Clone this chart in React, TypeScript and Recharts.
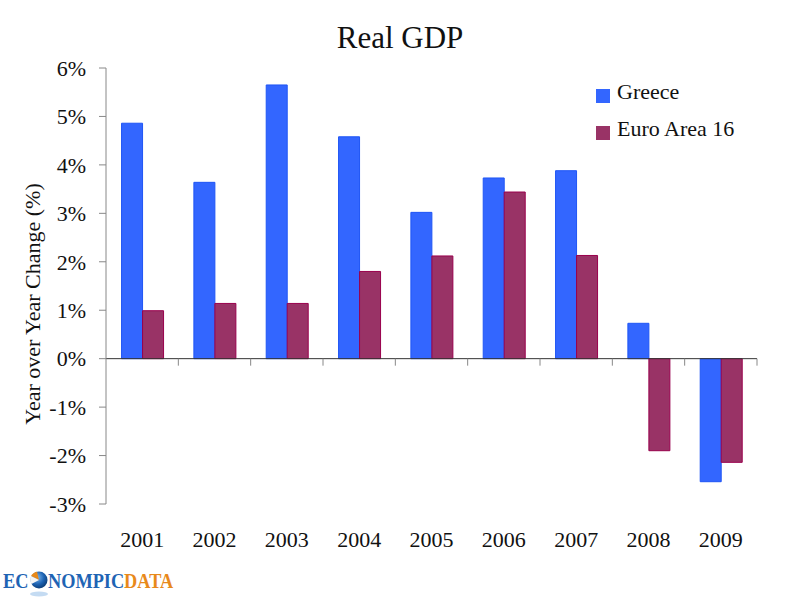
import React from 'react';
import { BarChart, Bar, XAxis, YAxis, ReferenceLine, Legend } from 'recharts';

const years = ['2001', '2002', '2003', '2004', '2005', '2006', '2007', '2008', '2009'];
const greece = [4.86, 3.64, 5.65, 4.58, 3.02, 3.73, 3.88, 0.73, -2.54];
const euroArea = [0.99, 1.14, 1.14, 1.8, 2.12, 3.44, 2.13, -1.9, -2.14];
const yTicks = [-3, -2, -1, 0, 1, 2, 3, 4, 5, 6];
const seriesNames = ['Greece', 'Euro Area 16'];

const data = years.map((year, i) => ({ year, greece: greece[i], euro: euroArea[i] }));

const FONT = '"Liberation Serif", "Times New Roman", serif';

const ZeroLine = (props: any) => {
  const { x1, y1, x2, y2 } = props;
  const n = years.length;
  const step = (x2 - x1) / n;
  const ticks = [];
  for (let i = 1; i <= n; i++) {
    const x = x1 + step * i;
    ticks.push(<line key={i} x1={x} y1={y1} x2={x} y2={y1 + 7} stroke="#888" strokeWidth={1} />);
  }
  return (
    <g>
      <line x1={x1} y1={y1} x2={x2} y2={y2} stroke="#333" strokeWidth={1} />
      {ticks}
    </g>
  );
};

const LegendContent = (props: any) => {
  const payload = [...(props.payload || [])].sort(
    (a: any, b: any) => seriesNames.indexOf(a.value) - seriesNames.indexOf(b.value)
  );
  return (
    <svg width={200} height={90} style={{ display: 'block', overflow: 'visible' }}>
      {payload.map((entry: any, i: number) => (
        <g key={entry.value}>
          <rect x={6} y={19 + i * 37} width={14} height={14} fill={entry.color} />
          <text x={27} y={29 + i * 37} fontFamily={FONT} fontSize={22} fill="#111">
            {entry.value}
          </text>
        </g>
      ))}
    </svg>
  );
};

const YLabel = (props: any) => {
  const { viewBox } = props;
  const x = viewBox.x + 32;
  const y = viewBox.y + viewBox.height / 2 + 18;
  return (
    <text
      x={x}
      y={y}
      transform={`rotate(-90, ${x}, ${y})`}
      textAnchor="middle"
      dominantBaseline="central"
      fontFamily={FONT}
      fontSize={22}
      fill="#111"
    >
      Year over Year Change (%)
    </text>
  );
};

export default function App() {
  return (
    <div style={{ position: 'absolute', left: 0, top: 0, width: 800, height: 600, background: '#fff' }}>
      <BarChart
        width={800}
        height={600}
        data={data}
        margin={{ top: 68, right: 43, bottom: 36, left: 0 }}
        barCategoryGap="21.5%"
        barGap={0}
      >
        <XAxis
          dataKey="year"
          height={60}
          axisLine={false}
          tickLine={false}
          tickSize={8}
          tickMargin={19}
          interval={0}
          tick={{ fontFamily: FONT, fontSize: 22, fill: '#111' }}
        />
        <YAxis
          width={106}
          domain={[-3, 6]}
          ticks={yTicks}
          interval={0}
          tickFormatter={(v: number) => `${v}%`}
          axisLine={{ stroke: '#888' }}
          tickLine={{ stroke: '#888' }}
          tickSize={7}
          tickMargin={13}
          tick={{ fontFamily: FONT, fontSize: 22, fill: '#111' }}
          label={{ content: <YLabel /> }}
        />
        <Legend
          layout="horizontal"
          verticalAlign="middle"
          align="center"
          content={<LegendContent />}
          wrapperStyle={{ position: 'absolute', left: 590, top: 70, width: 0, height: 0, overflow: 'visible' }}
        />
        <Bar dataKey="greece" name="Greece" fill="#3366FF" stroke="#1f55f5" strokeWidth={1} isAnimationActive={false} />
        <Bar dataKey="euro" name="Euro Area 16" fill="#993366" stroke="#99004d" strokeWidth={1} isAnimationActive={false} />
        <ReferenceLine y={0} shape={<ZeroLine />} />
      </BarChart>
      <svg width={800} height={600} style={{ position: 'absolute', left: 0, top: 0, pointerEvents: 'none' }}>
        <defs>
          <radialGradient id="globe" cx="40%" cy="35%" r="65%">
            <stop offset="0%" stopColor="#7fb6ea" />
            <stop offset="60%" stopColor="#1e64b4" />
            <stop offset="100%" stopColor="#0d3f7a" />
          </radialGradient>
        </defs>
        <text x={400} y={48} textAnchor="middle" fontFamily={FONT} fontSize={31} fill="#111">
          Real GDP
        </text>
        <circle cx={39} cy={580} r={8.5} fill="url(#globe)" />
        <path d="M39 580 L31 576 A8.5 8.5 0 0 1 37 571.7 Z" fill="#e8891a" />
        <path d="M39 580 L31 576 A8.5 8.5 0 0 0 31.5 584 Z" fill="#f4f4f4" />
        <ellipse cx={39} cy={594} rx={9} ry={2.5} fill="#9cc3ea" opacity={0.6} />
        <g transform="scale(0.87, 1)">
          <text x={3.45} y={588} fontFamily={FONT} fontWeight="bold" fontSize={21} fill="#1e64b4">
            <tspan>EC</tspan>
            <tspan dx={22.6}>NOMPIC</tspan>
            <tspan fill="#e8891a">DATA</tspan>
          </text>
        </g>
      </svg>
    </div>
  );
}
